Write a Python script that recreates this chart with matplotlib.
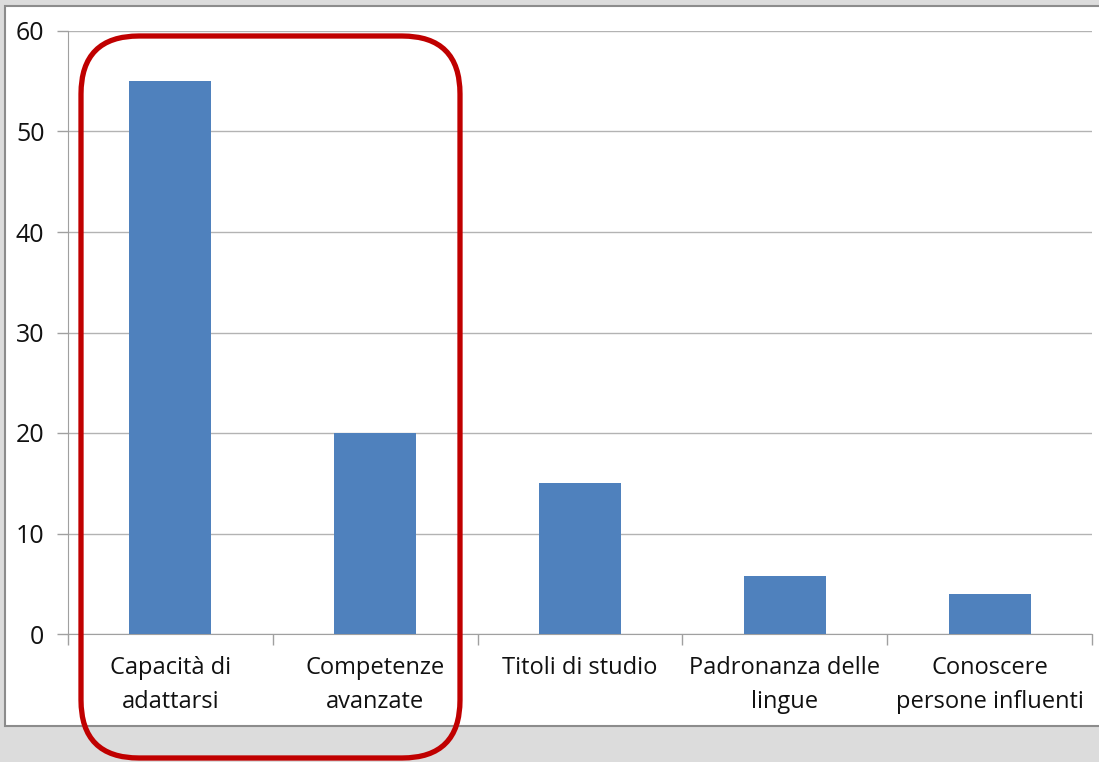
import matplotlib
matplotlib.use("Agg")
import matplotlib.pyplot as plt
from matplotlib.patches import Rectangle, FancyBboxPatch
from matplotlib.transforms import IdentityTransform

categories = ["Capacità di\nadattarsi", "Competenze\navanzate", "Titoli di studio",
              "Padronanza delle\nlingue", "Conoscere\npersone influenti"]
values = [55, 20, 15, 5.8, 4]
yticks = [0, 10, 20, 30, 40, 50, 60]

plt.rcParams['font.family'] = ['Open Sans', 'DejaVu Sans']

W, H = 1099, 762
fig = plt.figure(figsize=(W / 100, H / 100), dpi=100)
fig.patch.set_facecolor('#dcdcdc')

# white chart panel
fig.patches.append(Rectangle((5 / W, 1 - 726 / H), (W + 10 - 5) / W, (726 - 6) / H,
                             transform=fig.transFigure, facecolor='white',
                             edgecolor='#8c8c8c', linewidth=1.5, zorder=-5))

left, right, top, bottom = 68, 1092, 31, 634
ax = fig.add_axes([left / W, 1 - bottom / H, (right - left) / W, (bottom - top) / H])
ax.set_zorder(1)
ax.set_facecolor('none')
x = list(range(len(categories)))
ax.bar(x, values, width=0.4, color='#4f81bd', zorder=3)
ax.set_xlim(-0.5, len(categories) - 0.5)
ax.set_ylim(0, 60)
ax.set_yticks(yticks)
ax.set_yticklabels([str(v) for v in yticks], fontsize=18, color='#111111')
ax.set_xticks(x)
ax.set_xticklabels(categories, fontsize=17, color='#111111', linespacing=1.55)
ax.set_xticks([i - 0.5 for i in range(len(categories) + 1)], minor=True)
ax.tick_params(axis='x', which='major', length=0, pad=16)
ax.tick_params(axis='x', which='minor', length=8, color='#a0a0a0', width=1)
ax.tick_params(axis='y', length=8, color='#a0a0a0', width=1, pad=9)
ax.grid(axis='y', color='#b3b3b3', linewidth=1, zorder=0)
for s in ['top', 'right']:
    ax.spines[s].set_visible(False)
ax.spines['left'].set_color('#a0a0a0')
ax.spines['bottom'].set_color('#a0a0a0')

# red rounded highlight box (pixel coordinates)
bx0, bx1, by0, by1 = 81, 460, 36, 758
r = 58
box = FancyBboxPatch((bx0 + r, H - by1 + r),
                     (bx1 - bx0 - 2 * r), (by1 - by0 - 2 * r),
                     boxstyle=f"round,pad={r}", transform=IdentityTransform(),
                     facecolor='none', edgecolor='#c00000', linewidth=3.8, zorder=10)
fig.patches.append(box)

fig.savefig("out.png", dpi=100)
